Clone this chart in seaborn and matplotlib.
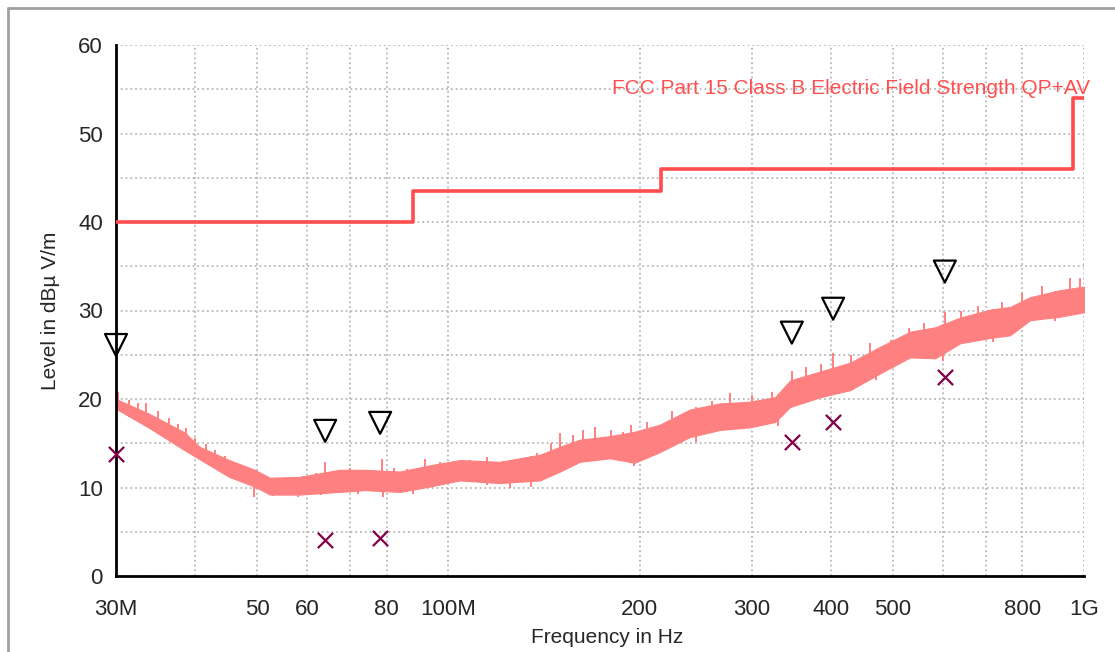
import numpy as np
import pandas as pd
import matplotlib
matplotlib.use('Agg')
import matplotlib.pyplot as plt
from matplotlib.lines import Line2D
import seaborn as sns

# limit line (MHz, dBuV/m)
limit_freq = [30, 88, 216, 960, 1000]
limit_level = [40, 43.5, 46, 54, 54]

# noise trace envelope
trace_freq = [30, 33.9, 38.5, 40.6, 45.2, 49.6, 52.4, 58.3, 67.4, 73.9, 83.9, 93.4,
              104.2, 120.4, 139.3, 149.8, 161.0, 179.4, 196.4, 215.1, 239.8, 267.3,
              298.3, 326.6, 344.9, 384.5, 428.6, 477.9, 532.6, 583.3, 638.7, 711.8,
              765.1, 822.4, 916.7, 1000]
trace_upper = [20.0, 18.3, 16.2, 14.6, 13.1, 12.0, 11.1, 11.2, 12.0, 12.0, 11.8, 12.5,
               13.1, 12.9, 13.7, 14.6, 15.4, 15.8, 16.3, 17.1, 18.8, 19.5,
               19.7, 20.2, 22.1, 23.1, 24.1, 25.9, 27.6, 28.1, 29.2, 30.1,
               30.4, 31.5, 32.3, 32.7]
trace_lower = [18.9, 16.7, 14.2, 13.2, 11.2, 10.1, 9.2, 9.2, 9.5, 9.7, 9.5, 10.1,
               10.8, 10.5, 10.8, 11.8, 12.9, 13.3, 12.8, 14.0, 15.7, 16.5,
               16.8, 17.4, 19.1, 20.2, 21.0, 22.9, 24.7, 24.6, 26.3, 26.9,
               27.2, 28.9, 29.3, 29.8]

# isolated spikes above the trace
spike_freq = [30.2, 31.5, 32.5, 33.5, 34.9, 36.3, 37.5, 38.6, 39.9, 41.5, 43, 44.5,
              46.5, 48.5, 51, 55, 59, 62, 64, 67, 70, 74, 78.5, 82, 86, 92, 97, 102,
              108, 115, 122, 130, 138, 145, 150, 157, 163, 170, 180, 188, 194, 205,
              225, 245, 260, 277, 300, 323, 347, 365, 385, 403, 430, 460, 497, 530,
              560, 604, 640, 680, 743, 800, 860, 950, 984]
spike_top = [20.8, 19.9, 19.6, 19.5, 18.7, 17.9, 17.2, 16.7, 15.6, 14.9, 14.2, 13.6,
             12.8, 12.0, 11.0, 11.1, 11.3, 11.6, 12.9, 11.9, 12.2, 12.0, 13.2, 12.2,
             12.1, 13.2, 12.9, 13.0, 13.1, 13.4, 13.0, 13.3, 13.9, 15.0, 16.2, 15.9,
             16.5, 16.8, 16.5, 16.3, 17.1, 17.4, 18.6, 19.1, 19.8, 20.7, 20.4, 20.8,
             23.2, 23.6, 24.0, 25.2, 25.0, 26.3, 26.7, 28.0, 28.6, 29.8, 30.0, 30.5,
             31.0, 32.0, 32.8, 33.7, 33.7]

# dips below the trace
dip_freq = [49.5, 53, 58, 63, 72, 79, 88, 115, 125, 135, 196, 245, 330, 470, 600, 720, 900]
dip_bottom = [8.9, 9.0, 8.9, 9.2, 9.3, 8.9, 9.3, 10.3, 10.0, 10.1, 12.4, 15.1, 17.0,
              22.2, 24.3, 26.4, 28.8]

# final measurement markers
peak_freq = [30, 64, 78.1, 347, 403, 604]
qp_level = [26.1, 16.4, 17.3, 27.5, 30.2, 34.4]
av_level = [13.8, 4.1, 4.3, 15.1, 17.4, 22.5]

x_ticks = [30, 40, 50, 60, 70, 80, 100, 200, 300, 400, 500, 600, 700, 800, 1000]
x_labels = ['30M', '', '50', '60', '', '80', '100M', '200', '300', '400', '500', '', '', '800', '1G']

sns.set_style('white')
plt.rcParams['font.family'] = ['Liberation Sans', 'DejaVu Sans']

fig = plt.figure(figsize=(11.15, 6.52), dpi=100)
ax = fig.add_axes([116 / 1115, 1 - 576 / 652, 968 / 1115, 531 / 652])

trace_col = '#ff8080'
lf = np.log10(trace_freq)
ax.fill_between(trace_freq, trace_lower, trace_upper, color=trace_col, lw=0.8, zorder=2)
spike_base = np.interp(np.log10(spike_freq), lf, trace_lower)
ax.vlines(spike_freq, spike_base, spike_top, color=trace_col, lw=1.4, zorder=2)
dip_base = np.interp(np.log10(dip_freq), lf, trace_upper)
ax.vlines(dip_freq, dip_bottom, dip_base, color=trace_col, lw=1.4, zorder=2)

limit_df = pd.DataFrame({'f': limit_freq, 'lvl': limit_level})
sns.lineplot(data=limit_df, x='f', y='lvl', drawstyle='steps-post', color='#ff4d4d',
             lw=2.6, ax=ax, zorder=3)
ax.text(1090 / 1115, 1 - 88 / 652, 'FCC Part 15 Class B Electric Field Strength QP+AV',
        transform=fig.transFigure, ha='right', va='center', color='#ff5050', fontsize=15)

meas = pd.DataFrame({'f': peak_freq, 'qp': qp_level, 'av': av_level})
sns.scatterplot(data=meas, x='f', y='qp', marker='v', s=250, facecolor='none',
                edgecolor='black', linewidth=1.6, ax=ax, zorder=5, clip_on=False)
sns.scatterplot(data=meas, x='f', y='av', marker='x', s=120, color='#80004a',
                linewidth=1.6, ax=ax, zorder=5, clip_on=False)

ax.set_xscale('log')
ax.set_xlim(30, 1000)
ax.set_ylim(0, 60)
ax.set_xticks(x_ticks)
ax.set_xticklabels(x_labels)
ax.minorticks_off()
ax.set_yticks(range(0, 61, 10))
ax.set_yticks(range(5, 60, 10), minor=True)
ax.grid(True, which='both', ls=':', color='#b8b8b8', lw=1.3)
ax.tick_params(which='both', direction='inout', length=13, width=1.5, color='black',
               labelsize=16, pad=3)
ax.tick_params(axis='x', pad=10)
for s in ['top', 'right']:
    ax.spines[s].set_visible(False)
for s in ['left', 'bottom']:
    ax.spines[s].set_color('black')
    ax.spines[s].set_linewidth(2)
ax.set_xlabel('Frequency in Hz', fontsize=15)
ax.set_ylabel('Level in dBµ V/m', fontsize=15)
ax.xaxis.set_label_coords((607 - 116) / 968, -(628 - 576) / 531)
ax.yaxis.set_label_coords(-(116 - 60) / 968, 0.5)

# outer panel frame
fig.add_artist(Line2D([8 / 1115, 8 / 1115], [0, 1 - 8 / 652], transform=fig.transFigure,
                      color='#a0a0a0', lw=2))
fig.add_artist(Line2D([8 / 1115, 1], [1 - 8 / 652, 1 - 8 / 652], transform=fig.transFigure,
                      color='#a0a0a0', lw=2))

fig.savefig('out.png', dpi=100)
